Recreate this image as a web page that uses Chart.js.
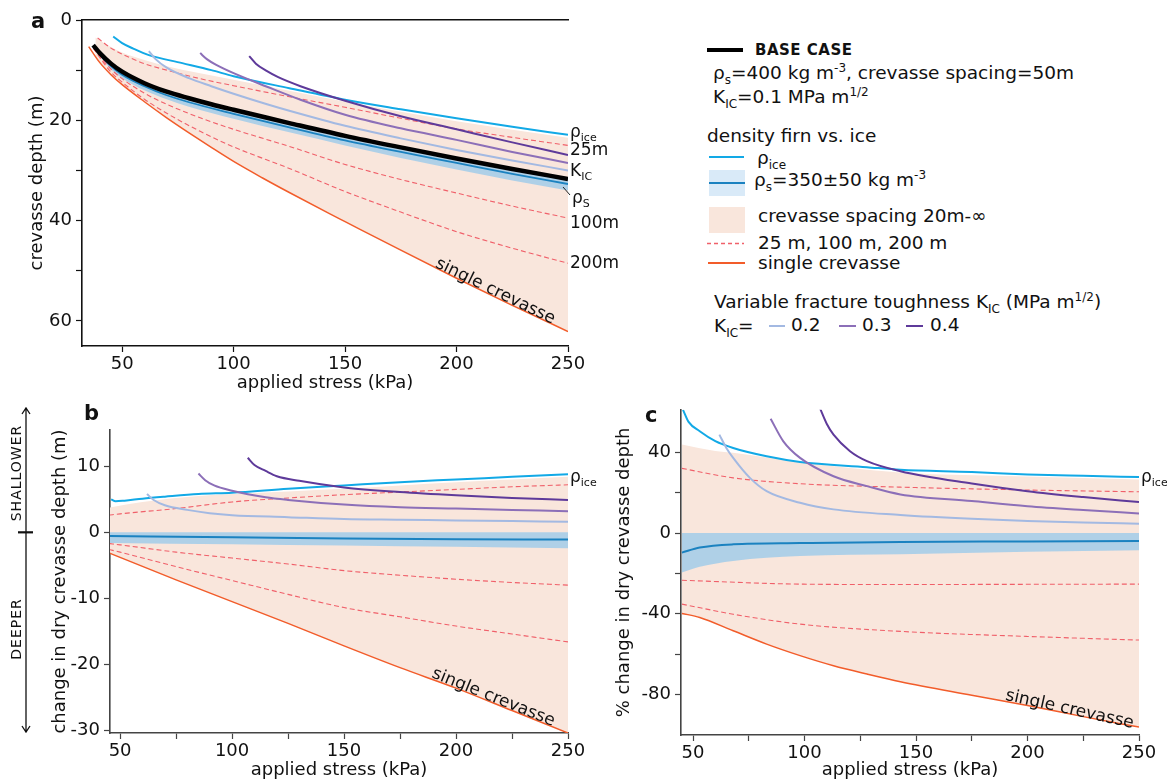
<!DOCTYPE html>
<html>
<head>
<meta charset="utf-8">
<script src="https://cdn.jsdelivr.net/npm/chart.js@4.4.1/dist/chart.umd.min.js"></script>
<style>
body{margin:0;background:#fff;width:1167px;height:783px;overflow:hidden;position:relative;font-family:"DejaVu Sans",sans-serif;color:#111}
canvas{position:absolute}
#ca{left:0;top:0}
#cb{left:0;top:395px}
#cc{left:590px;top:395px}
.t{position:absolute;white-space:nowrap;font-size:17px;line-height:20px}
.lg{font-size:18.5px}
.t sub,.t sup{font-size:11px;line-height:0}
.lg sub,.lg sup{font-size:12px}
.sw{position:absolute}
.rot{position:absolute;white-space:nowrap;font-size:17px;line-height:20px;transform:translate(-50%,-50%) rotate(var(--a))}
.lt{position:absolute;font-weight:bold;font-size:21px;line-height:24px}
.vt{position:absolute;white-space:nowrap;font-size:14px;letter-spacing:1px;transform:translate(-50%,-50%) rotate(-90deg)}
</style>
</head>
<body>
<canvas id="ca" width="620" height="396"></canvas>
<canvas id="cb" width="620" height="388"></canvas>
<canvas id="cc" width="577" height="388"></canvas>

<!-- panel letters -->
<div class="lt" style="left:31px;top:9px">a</div>
<div class="lt" style="left:84px;top:401px">b</div>
<div class="lt" style="left:645px;top:403px">c</div>

<!-- legend -->
<div class="sw" style="left:707px;top:48px;width:36px;height:4px;background:#000"></div>
<div class="t" style="left:755px;top:40px;font-weight:bold;font-size:15px;letter-spacing:0.5px">BASE CASE</div>
<div class="t lg" style="left:713px;top:63px">ρ<sub>s</sub>=400 kg m<sup>-3</sup>, crevasse spacing=50m</div>
<div class="t lg" style="left:713px;top:87px">K<sub>IC</sub>=0.1 MPa m<sup>1/2</sup></div>
<div class="t lg" style="left:707px;top:126px">density firn vs. ice</div>
<div class="sw" style="left:709px;top:156px;width:35px;height:2px;background:#12a9e6"></div>
<div class="t lg" style="left:757px;top:148px">ρ<sub>ice</sub></div>
<div class="sw" style="left:709px;top:170px;width:36px;height:26px;background:#d9eaf8"></div>
<div class="sw" style="left:709px;top:182px;width:36px;height:2px;background:#1b82c0"></div>
<div class="t lg" style="left:754px;top:170px">ρ<sub>s</sub>=350±50 kg m<sup>-3</sup></div>
<div class="sw" style="left:709px;top:207px;width:36px;height:26px;background:#f9e6dc"></div>
<div class="t lg" style="left:758px;top:206px">crevasse spacing 20m-∞</div>
<svg class="sw" style="left:707px;top:242px" width="37" height="3"><line x1="0" y1="1.5" x2="37" y2="1.5" stroke="#f0606a" stroke-width="1.3" stroke-dasharray="4 3"/></svg>
<div class="t lg" style="left:758px;top:233px">25 m, 100 m, 200 m</div>
<div class="sw" style="left:708px;top:262px;width:37px;height:2px;background:#f25c2a"></div>
<div class="t lg" style="left:758px;top:253px">single crevasse</div>
<div class="t lg" style="left:714px;top:292px">Variable fracture toughness K<sub>IC</sub> (MPa m<sup>1/2</sup>)</div>
<div class="t lg" style="left:714px;top:316px">K<sub>IC</sub>=</div>
<div class="sw" style="left:769px;top:325px;width:16px;height:2px;background:#a3b9e2"></div>
<div class="t lg" style="left:791px;top:315px">0.2</div>
<div class="sw" style="left:839px;top:325px;width:17px;height:2px;background:#8c6fb8"></div>
<div class="t lg" style="left:862px;top:315px">0.3</div>
<div class="sw" style="left:906px;top:325px;width:17px;height:2px;background:#5e3a9a"></div>
<div class="t lg" style="left:930px;top:315px">0.4</div>

<!-- end labels panel a -->
<div class="t" style="left:570px;top:121px">ρ<sub>ice</sub></div>
<div class="t" style="left:570px;top:139px">25m</div>
<div class="t" style="left:570px;top:160px">K<sub>IC</sub></div>
<svg style="position:absolute;left:0;top:0" width="1167" height="783"><line x1="563" y1="187" x2="570" y2="195" stroke="#222" stroke-width="1"/></svg>
<div class="t" style="left:572px;top:187px">ρ<sub>S</sub></div>
<div class="t" style="left:570px;top:212px">100m</div>
<div class="t" style="left:570px;top:252px">200m</div>
<div class="rot" style="left:496px;top:290px;--a:26deg">single crevasse</div>

<!-- panel b / c labels -->
<div class="t" style="left:570px;top:466px">ρ<sub>ice</sub></div>
<div class="rot" style="left:494px;top:696px;--a:22deg">single crevasse</div>
<div class="t" style="left:1141px;top:466px">ρ<sub>ice</sub></div>
<div class="rot" style="left:1070px;top:708px;--a:12.5deg">single crevasse</div>
<div class="vt" style="left:16px;top:473px">SHALLOWER</div>
<div class="vt" style="left:16px;top:629px">DEEPER</div>

<script>
// ---------- panel a: crevasse depth (m) vs applied stress (kPa) ----------
const baseA_x = [37, 40, 45, 50, 60, 70, 80, 90, 100, 115, 125, 150, 175, 200, 225, 250];
const baseA_y = [5.0, 6.6, 8.7, 10.3, 12.6, 14.3, 15.6, 16.8, 17.9, 19.5, 20.55, 23.1, 25.4, 27.6, 29.7, 31.7];
const iceA_x = [46, 50, 55, 62, 77, 90, 100, 125, 150, 175, 200, 225, 250];
const iceA_y = [3.3, 4.6, 5.7, 7.0, 8.6, 10.0, 11.2, 13.6, 15.9, 17.8, 19.6, 21.3, 22.9];
const fillTopA_x = [38, 45, 50, 60, 70, 85, 100, 125, 150, 175, 200, 225, 250];
const fillTopA_y = [3.5, 5.4, 6.5, 8.0, 9.2, 10.6, 11.9, 14.1, 16.3, 18.3, 20.2, 21.9, 23.5];
const d25A_x = [39, 45, 50, 60, 70, 85, 100, 125, 150, 175, 200, 225, 250];
const d25A_y = [3.6, 5.6, 6.8, 8.7, 10.0, 11.7, 13.1, 15.3, 17.4, 19.6, 21.7, 23.4, 25.0];
const k2A_x = [62, 65, 70, 80, 90, 100, 115, 125, 150, 175, 200, 225, 250];
const k2A_y = [6.2, 7.8, 9.5, 11.6, 13.2, 14.7, 16.8, 18.1, 21.1, 23.6, 25.9, 28.0, 30.0];
const k3A_x = [85, 88, 92, 100, 115, 130, 150, 175, 200, 225, 250];
const k3A_y = [6.6, 7.8, 8.9, 10.6, 13.3, 15.9, 18.9, 21.6, 23.9, 26.3, 28.5];
const k4A_x = [107, 110, 115, 120, 130, 150, 175, 200, 225, 250];
const k4A_y = [7.2, 8.7, 10.2, 11.4, 13.2, 16.1, 19.2, 21.8, 24.4, 26.9];
const rhoA_x = [37, 45, 50, 60, 70, 80, 100, 125, 150, 175, 200, 225, 250];
const rhoA_y = [5.3, 9.2, 10.9, 13.2, 15.0, 16.4, 18.7, 21.4, 24.0, 26.3, 28.5, 30.7, 32.7];
const rhoLowA_y = [5.6, 9.8, 11.6, 14.0, 15.8, 17.3, 19.7, 22.4, 25.0, 27.5, 29.8, 32.0, 34.0];
const dA_x = [37, 45, 50, 60, 70, 85, 100, 125, 150, 175, 200, 225, 250];
const d100A_y = [5.5, 9.8, 11.7, 14.6, 16.8, 19.5, 21.8, 25.2, 28.8, 31.8, 34.5, 37.1, 39.5];
const d200A_y = [5.6, 10.4, 12.4, 15.8, 18.6, 22.2, 25.3, 29.6, 34.2, 38.3, 42.2, 45.5, 48.5];
const singleA_x = [35, 40, 45, 50, 60, 70, 80, 90, 100, 113, 125, 143, 150, 175, 200, 225, 250];
const singleA_y = [5.3, 8.5, 10.9, 12.9, 16.3, 19.5, 22.5, 25.4, 28.2, 31.5, 34.4, 38.6, 40.2, 45.9, 51.5, 56.9, 62.1];

// ---------- panel b: change in dry crevasse depth (m) ----------
const iceB_x = [46, 48, 52, 60, 70, 85, 100, 125, 150, 175, 200, 225, 250];
const iceB_y = [5.0, 4.7, 4.8, 5.1, 5.4, 5.8, 6.0, 6.6, 7.1, 7.6, 8.0, 8.4, 8.8];
const fillTopB_x = [45, 60, 85, 100, 125, 150, 175, 200, 225, 250];
const fillTopB_y = [3.75, 4.6, 5.5, 5.8, 6.2, 6.6, 7.1, 7.6, 8.0, 8.4];
const dB_x = [45, 50, 75, 100, 125, 150, 175, 200, 225, 250];
const d25B_y = [2.6, 2.8, 3.6, 4.6, 5.2, 5.7, 6.1, 6.5, 6.9, 7.2];
const d100B_y = [-1.7, -1.9, -3.0, -3.9, -4.8, -5.8, -6.5, -7.1, -7.6, -8.0];
const d200B_y = [-2.6, -3.0, -5.2, -7.3, -9.4, -11.4, -12.8, -14.2, -15.4, -16.6];
const singleB_y = [-3.1, -3.8, -7.2, -10.5, -13.8, -17.2, -20.5, -23.6, -27.0, -30.4];
const k2B_x = [62, 65, 70, 80, 90, 100, 125, 150, 175, 200, 225, 250];
const k2B_y = [5.8, 4.9, 4.1, 3.4, 2.9, 2.6, 2.3, 2.0, 1.9, 1.8, 1.7, 1.6];
const k3B_x = [85, 88, 92, 100, 115, 125, 150, 175, 200, 225, 250];
const k3B_y = [8.9, 7.9, 7.1, 6.3, 5.3, 4.9, 4.2, 3.8, 3.6, 3.4, 3.2];
const k4B_x = [107, 110, 115, 120, 130, 150, 175, 200, 225, 250];
const k4B_y = [11.3, 10.2, 9.3, 8.5, 7.8, 6.8, 6.1, 5.6, 5.2, 4.9];
const rhoB_x = [45, 100, 150, 200, 250];
const rhoB_y = [-0.55, -0.75, -0.95, -1.05, -1.1];
const rhoLowB_y = [-1.6, -1.8, -2.0, -2.2, -2.4];

// ---------- panel c: % change in dry crevasse depth ----------
const iceC_x = [45.5, 48, 53, 60, 68, 83, 98, 128, 143, 175, 200, 225, 250];
const iceC_y = [61, 55, 50.4, 45.5, 42.1, 38, 35.2, 32.6, 31.3, 30.2, 29, 28.3, 27.7];
const fillTopC_x = [45, 60, 68, 98, 143, 200, 250];
const fillTopC_y = [43.8, 40.6, 39.7, 35.0, 30.0, 28.0, 26.5];
const d25C_x = [45, 68, 98, 143, 200, 250];
const d25C_y = [32, 27.3, 24.4, 22.7, 21.3, 20.4];
const k2C_x = [61.8, 65, 68, 75.5, 83, 98, 113, 143, 175, 200, 225, 250];
const k2C_y = [48.7, 42, 37.2, 27.3, 20.7, 15, 11.7, 8.9, 7, 6, 5.2, 4.6];
const k3C_x = [84.8, 90.5, 98, 113, 128, 143, 175, 200, 225, 250];
const k3C_y = [56.6, 45.4, 37.2, 28.1, 23.2, 19.1, 15.8, 13.3, 11.4, 9.7];
const k4C_x = [107, 110, 113, 120.4, 128, 143, 175, 200, 225, 250];
const k4C_y = [61.6, 54, 48.7, 40.5, 35.6, 30.6, 24.5, 20.7, 17.8, 15.3];
const rhoC_x = [45, 53, 68, 98, 143, 200, 250];
const rhoC_y = [-9.7, -7.2, -5.6, -5, -4.4, -4.2, -4];
const rhoLowC_y = [-19.6, -16.7, -13.8, -11.4, -10.5, -9.3, -8.5];
const d100C_x = [45, 98, 143, 200, 250];
const d100C_y = [-23.4, -25.3, -25.5, -25.4, -25.3];
const d200C_x = [45, 68, 98, 143, 200, 250];
const d200C_y = [-35.2, -40.2, -45.1, -48.7, -51.2, -53];
const singleC_x = [45, 53, 68, 83, 98, 113, 128, 143, 175, 200, 225, 250];
const singleC_y = [-39.8, -41.8, -48.4, -55, -60.7, -65.7, -69.8, -73.6, -80.3, -85.4, -90.9, -96.1];

// ticks
const xTicksA = [50, 100, 150, 200, 250];
const xTicksBC = [50, 75, 100, 125, 150, 175, 200, 225, 250];
const xLabels = [50, 100, 150, 200, 250];
const yTicksA = [0, 10, 20, 30, 40, 50, 60];
const yLabelsA = [0, 20, 40, 60];
const yTicksB = [10, 0, -10, -20, -30];
const yTicksC = [40, 20, 0, -20, -40, -60, -80];
const yLabelsC = [40, 0, -40, -80];

// colours
const C_ICE = '#12a9e6', C_RHO = '#1b82c0', C_BAND = 'rgba(150,200,235,0.75)', C_PINK = '#f9e6dc';
const C_DASH = '#f0606a', C_SINGLE = '#f25c2a', C_K2 = '#a3b9e2', C_K3 = '#8c6fb8', C_K4 = '#5e3a9a';
const FONT = {family: 'DejaVu Sans', size: 18};

function pts(xs, ys) { return xs.map((x, i) => ({x: x, y: ys[i]})); }
function line(xs, ys, color, width, order, extra) {
  return Object.assign({
    data: pts(xs, ys), borderColor: color, borderWidth: width, pointRadius: 0,
    fill: false, cubicInterpolationMode: 'monotone', order: order
  }, extra || {});
}

function axisX(o) {
  return {
    type: 'linear', min: o.min, max: o.max,
    afterBuildTicks: s => { s.ticks = o.ticks.map(v => ({value: v})); },
    afterFit: s => { s.height = o.h; },
    ticks: {callback: v => xLabels.includes(v) ? String(v) : '', autoSkip: false, maxRotation: 0, font: FONT, color: '#111', padding: 2},
    grid: {drawOnChartArea: false, tickLength: 6, tickColor: o.axis, tickWidth: 1.2},
    border: {color: o.axis, width: 1.6},
    title: {display: true, text: 'applied stress (kPa)', font: FONT, color: '#111', padding: {top: 0, bottom: 2}}
  };
}
function axisY(o) {
  return {
    type: 'linear', min: o.min, max: o.max, reverse: !!o.reverse,
    afterBuildTicks: s => { s.ticks = o.ticks.map(v => ({value: v})); },
    afterFit: s => { s.width = o.w; },
    ticks: {callback: v => o.labels.includes(v) ? String(v) : '', autoSkip: false, font: FONT, color: '#111', padding: 4},
    grid: {drawOnChartArea: false, tickLength: 6, tickColor: o.axis, tickWidth: 1.2},
    border: {color: o.axis, width: 1.6},
    title: {display: true, text: o.title, font: FONT, color: '#111', padding: {top: 4, bottom: 4}}
  };
}
function baseOptions(pad, scales) {
  return {
    responsive: false, animation: false, events: [],
    layout: {padding: pad},
    plugins: {legend: {display: false}, tooltip: {enabled: false}, filler: {drawTime: 'beforeDatasetsDraw'}},
    scales: scales
  };
}

// panel a
new Chart(document.getElementById('ca'), {
  type: 'line',
  data: {datasets: [
    line(fillTopA_x, fillTopA_y, 'rgba(0,0,0,0)', 0, 20, {fill: {target: 1}, backgroundColor: C_PINK}),
    line(singleA_x, singleA_y, C_SINGLE, 1.5, 6),
    line(rhoA_x, rhoLowA_y, 'rgba(0,0,0,0)', 0, 15, {fill: {target: 11}, backgroundColor: C_BAND}),
    line(d25A_x, d25A_y, C_DASH, 1.1, 8, {borderDash: [5, 3]}),
    line(dA_x, d100A_y, C_DASH, 1.1, 8, {borderDash: [5, 3]}),
    line(dA_x, d200A_y, C_DASH, 1.1, 8, {borderDash: [5, 3]}),
    line(rhoA_x, rhoA_y, C_RHO, 1.8, 5),
    line(iceA_x, iceA_y, C_ICE, 2, 4),
    line(k2A_x, k2A_y, C_K2, 2, 3),
    line(k3A_x, k3A_y, C_K3, 2, 3),
    line(k4A_x, k4A_y, C_K4, 2, 3),
    line(baseA_x, baseA_y, '#000', 4.5, 1)
  ]},
  options: baseOptions({left: 23, top: 20, right: 52, bottom: 0}, {
    x: axisX({min: 32, max: 250, ticks: xTicksA, h: 50, axis: '#111'}),
    x2: {type: 'linear', position: 'top', display: true, ticks: {display: false}, grid: {display: false},
         border: {display: true, color: '#111', width: 1.6}, afterFit: s => { s.height = 0; }},
    y: axisY({min: 0, max: 65, reverse: true, ticks: yTicksA, labels: yLabelsA, w: 59, axis: '#111', title: 'crevasse depth (m)'})
  })
});

// shallower / deeper arrow beside panel b
const arrowPlugin = {
  id: 'arrows',
  afterDraw(chart) {
    const {ctx, chartArea, scales} = chart;
    const y0 = scales.y.getPixelForValue(0);
    const x = 26, top = chartArea.top - 22, bot = chartArea.bottom - 1;
    ctx.save();
    ctx.strokeStyle = '#111';
    ctx.lineWidth = 1.3;
    ctx.beginPath();
    ctx.moveTo(x, top); ctx.lineTo(x, bot);
    ctx.moveTo(x - 4, top + 6); ctx.lineTo(x, top); ctx.lineTo(x + 4, top + 6);
    ctx.moveTo(x - 4, bot - 6); ctx.lineTo(x, bot); ctx.lineTo(x + 4, bot - 6);
    ctx.stroke();
    ctx.lineWidth = 2.2;
    ctx.beginPath(); ctx.moveTo(x - 8, y0); ctx.lineTo(x + 7, y0); ctx.stroke();
    ctx.restore();
  }
};

// panel b
new Chart(document.getElementById('cb'), {
  type: 'line',
  data: {datasets: [
    line(fillTopB_x, fillTopB_y, 'rgba(0,0,0,0)', 0, 20, {fill: {target: 1}, backgroundColor: C_PINK}),
    line(dB_x, singleB_y, C_SINGLE, 1.5, 6),
    line(rhoB_x, rhoLowB_y, 'rgba(0,0,0,0)', 0, 15, {fill: {value: 0}, backgroundColor: C_BAND}),
    line(dB_x, d25B_y, C_DASH, 1.1, 8, {borderDash: [5, 3]}),
    line(dB_x, d100B_y, C_DASH, 1.1, 8, {borderDash: [5, 3]}),
    line(dB_x, d200B_y, C_DASH, 1.1, 8, {borderDash: [5, 3]}),
    line(rhoB_x, rhoB_y, C_RHO, 2, 5),
    line(iceB_x, iceB_y, C_ICE, 2, 4),
    line(k2B_x, k2B_y, C_K2, 2, 3),
    line(k3B_x, k3B_y, C_K3, 2, 3),
    line(k4B_x, k4B_y, C_K4, 2, 3)
  ]},
  options: baseOptions({left: 46, top: 35, right: 52, bottom: 0}, {
    x: axisX({min: 45.5, max: 250, ticks: xTicksBC, h: 50, axis: '#444'}),
    y: axisY({min: -30.4, max: 15.5, ticks: yTicksB, labels: yTicksB, w: 64, axis: '#444', title: 'change in dry crevasse depth (m)'})
  }),
  plugins: [arrowPlugin]
});

// panel c
new Chart(document.getElementById('cc'), {
  type: 'line',
  data: {datasets: [
    line(fillTopC_x, fillTopC_y, 'rgba(0,0,0,0)', 0, 20, {fill: {target: 1}, backgroundColor: C_PINK}),
    line(singleC_x, singleC_y, C_SINGLE, 1.5, 6),
    line(rhoC_x, rhoLowC_y, 'rgba(0,0,0,0)', 0, 15, {fill: {value: 0}, backgroundColor: C_BAND}),
    line(d25C_x, d25C_y, C_DASH, 1.1, 8, {borderDash: [5, 3]}),
    line(d100C_x, d100C_y, C_DASH, 1.1, 8, {borderDash: [5, 3]}),
    line(d200C_x, d200C_y, C_DASH, 1.1, 8, {borderDash: [5, 3]}),
    line(rhoC_x, rhoC_y, C_RHO, 2, 5),
    line(iceC_x, iceC_y, C_ICE, 2, 4),
    line(k2C_x, k2C_y, C_K2, 2, 3),
    line(k3C_x, k3C_y, C_K3, 2, 3),
    line(k4C_x, k4C_y, C_K4, 2, 3)
  ]},
  options: baseOptions({left: 20, top: 13, right: 28, bottom: 0}, {
    x: axisX({min: 44.6, max: 250, ticks: xTicksBC, h: 48, axis: '#444'}),
    y: axisY({min: -100, max: 61, ticks: yTicksC, labels: yLabelsC, w: 71, axis: '#444', title: '% change in dry crevasse depth'})
  })
});
</script>
</body>
</html>
